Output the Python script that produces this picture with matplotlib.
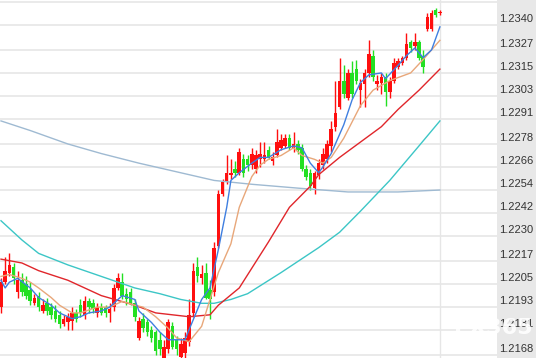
import matplotlib
matplotlib.use('Agg')
import matplotlib.pyplot as plt
from matplotlib.patches import Rectangle
from matplotlib.transforms import blended_transform_factory

# OHLC (red = up, green = down)
opens = [1.2193, 1.2206, 1.2211, 1.2214, 1.2201, 1.2207, 1.2205, 1.2202, 1.2195, 1.2199,
         1.2191, 1.2195, 1.2193, 1.2191, 1.2189, 1.2184, 1.2185, 1.2186, 1.2190, 1.2194,
         1.2189, 1.2196, 1.2195, 1.2190, 1.2193, 1.2193, 1.2190, 1.2193, 1.2203, 1.2206,
         1.2200, 1.2201, 1.2195, 1.2177, 1.2187, 1.2185, 1.2181, 1.2180, 1.2176, 1.2166,
         1.2171, 1.2183, 1.2176, 1.2167, 1.2169, 1.2175, 1.2190, 1.2214, 1.2208, 1.2211,
         1.2202, 1.2201, 1.2225, 1.2252, 1.2258, 1.2262, 1.2265, 1.2263, 1.2270, 1.2270,
         1.2267, 1.2265, 1.2270, 1.2270, 1.2275, 1.2269, 1.2272, 1.2276, 1.2277, 1.2281,
         1.2276, 1.2278, 1.2276, 1.2265, 1.2263, 1.2255, 1.2262, 1.2267, 1.2270, 1.2277,
         1.2287, 1.2297, 1.2311, 1.2302, 1.2315, 1.2317, 1.2306, 1.2309, 1.2315, 1.2324,
         1.2309, 1.2310, 1.2313, 1.2305, 1.2311, 1.2318, 1.2320, 1.2323, 1.2331, 1.2329,
         1.2331, 1.2324, 1.2338, 1.2338, 1.2348, 1.2346]
highs = [1.2208, 1.2219, 1.2221, 1.2216, 1.2212, 1.2211, 1.2209, 1.2206, 1.2200, 1.2201,
         1.2197, 1.2198, 1.2195, 1.2194, 1.2191, 1.2189, 1.2190, 1.2193, 1.2192, 1.2197,
         1.2199, 1.2198, 1.2197, 1.2195, 1.2195, 1.2194, 1.2195, 1.2205, 1.2211, 1.2211,
         1.2203, 1.2203, 1.2197, 1.2188, 1.2190, 1.2187, 1.2183, 1.2181, 1.2180, 1.2176,
         1.2187, 1.2185, 1.2178, 1.2177, 1.2180, 1.2197, 1.2216, 1.2219, 1.2215, 1.2216,
         1.2207, 1.2227, 1.2254, 1.2260, 1.2272, 1.2270, 1.2269, 1.2276, 1.2273, 1.2272,
         1.2276, 1.2275, 1.2279, 1.2279, 1.2277, 1.2274, 1.2286, 1.2283, 1.2283, 1.2283,
         1.2284, 1.2280, 1.2278, 1.2267, 1.2265, 1.2264, 1.2270, 1.2276, 1.2280, 1.2290,
         1.2311, 1.2323, 1.2319, 1.2317, 1.2321, 1.2322, 1.2312, 1.2317, 1.2332, 1.2327,
         1.2314, 1.2315, 1.2315, 1.2313, 1.2323, 1.2323, 1.2324, 1.2336, 1.2332, 1.2336,
         1.2332, 1.2327, 1.2346, 1.2348, 1.2349, 1.2348]
lows = [1.2190, 1.2205, 1.2209, 1.2205, 1.2198, 1.2199, 1.2197, 1.2194, 1.2194, 1.2191,
        1.2190, 1.2189, 1.2187, 1.2185, 1.2182, 1.2183, 1.2181, 1.2181, 1.2185, 1.2188,
        1.2187, 1.2190, 1.2190, 1.2188, 1.2189, 1.2188, 1.2185, 1.2191, 1.2202, 1.2197,
        1.2194, 1.2194, 1.2186, 1.2176, 1.2180, 1.2178, 1.2175, 1.2168, 1.2168, 1.2165,
        1.2169, 1.2171, 1.2168, 1.2165, 1.2166, 1.2173, 1.2188, 1.2206, 1.2205, 1.2197,
        1.2187, 1.2199, 1.2224, 1.2251, 1.2257, 1.2260, 1.2261, 1.2262, 1.2261, 1.2264,
        1.2265, 1.2263, 1.2266, 1.2268, 1.2270, 1.2267, 1.2271, 1.2275, 1.2276, 1.2275,
        1.2274, 1.2273, 1.2264, 1.2259, 1.2254, 1.2252, 1.2260, 1.2265, 1.2268, 1.2274,
        1.2285, 1.2296, 1.2302, 1.2301, 1.2302, 1.2309, 1.2297, 1.2297, 1.2313, 1.2311,
        1.2306, 1.2304, 1.2298, 1.2302, 1.2310, 1.2317, 1.2319, 1.2322, 1.2326, 1.2327,
        1.2322, 1.2315, 1.2337, 1.2337, 1.2344, 1.2345]
closes = [1.2206, 1.2212, 1.2215, 1.2208, 1.2207, 1.2201, 1.2199, 1.2196, 1.2198, 1.2193,
          1.2194, 1.2191, 1.2189, 1.2187, 1.2184, 1.2187, 1.2188, 1.2190, 1.2187, 1.2190,
          1.2196, 1.2193, 1.2192, 1.2193, 1.2190, 1.2190, 1.2192, 1.2203, 1.2208, 1.2199,
          1.2197, 1.2195, 1.2188, 1.2186, 1.2182, 1.2180, 1.2177, 1.2170, 1.2171, 1.2172,
          1.2185, 1.2172, 1.2171, 1.2174, 1.2177, 1.2189, 1.2212, 1.2209, 1.2210, 1.2198,
          1.2197, 1.2224, 1.2252, 1.2258, 1.2263, 1.2263, 1.2263, 1.2274, 1.2263, 1.2267,
          1.2273, 1.2272, 1.2273, 1.2272, 1.2271, 1.2271, 1.2279, 1.2280, 1.2281, 1.2276,
          1.2278, 1.2275, 1.2265, 1.2261, 1.2256, 1.2263, 1.2268, 1.2273, 1.2278, 1.2286,
          1.2294, 1.2311, 1.2304, 1.2315, 1.2304, 1.2311, 1.2310, 1.2315, 1.2325, 1.2313,
          1.2311, 1.2313, 1.2305, 1.2311, 1.2320, 1.2321, 1.2323, 1.2330, 1.2328, 1.2331,
          1.2323, 1.2318, 1.2344, 1.2346, 1.2345, 1.2347]

# moving averages, read at a few candle positions
ma5_x = [0, 1, 2, 4, 7, 9, 12, 14, 17, 19, 21, 24, 26, 28, 29, 32, 33, 36, 38, 40, 42, 44,
         48, 50, 52, 54, 55, 57, 60, 62, 64, 67, 70, 72, 74, 76, 77, 79, 82, 84, 86, 88,
         91, 92, 95, 97, 99, 101, 103, 105]
ma5 = [1.2207, 1.2203, 1.2206, 1.2208, 1.2203, 1.2198, 1.2194, 1.2190, 1.2187, 1.2188,
       1.2190, 1.2191, 1.2193, 1.2197, 1.2199, 1.2197, 1.2191, 1.2185, 1.2180, 1.2176,
       1.2176, 1.2176, 1.2197, 1.2203, 1.2223, 1.2245, 1.2259, 1.2263, 1.2268, 1.2271,
       1.2271, 1.2275, 1.2277, 1.2276, 1.2268, 1.2263, 1.2266, 1.2273, 1.2288, 1.2301,
       1.2310, 1.2314, 1.2315, 1.2312, 1.2319, 1.2324, 1.2328, 1.2323, 1.2327, 1.2339]
ma10_x = [0, 2, 5, 7, 9, 12, 14, 17, 19, 23, 26, 29, 32, 34, 37, 40, 42, 45, 48, 50, 52,
          55, 57, 60, 62, 64, 67, 70, 72, 75, 77, 79, 82, 86, 89, 93, 98, 101, 105]
ma10 = [1.2209, 1.2210, 1.2208, 1.2206, 1.2203, 1.2198, 1.2194, 1.2190, 1.2190, 1.2193,
        1.2193, 1.2196, 1.2194, 1.2193, 1.2188, 1.2182, 1.2177, 1.2175, 1.2183, 1.2197,
        1.2211, 1.2226, 1.2245, 1.2261, 1.2267, 1.2270, 1.2272, 1.2276, 1.2272, 1.2270,
        1.2268, 1.2271, 1.2281, 1.2298, 1.2306, 1.2311, 1.2315, 1.2322, 1.2332]
ma30_x = [0, 5, 9, 16, 24, 32, 37, 45, 50, 52, 57, 64, 69, 74, 76, 81, 86, 91, 95, 100, 105]
ma30 = [1.2218, 1.2216, 1.2212, 1.2207, 1.2199, 1.2194, 1.2190, 1.2188, 1.2189, 1.2194,
        1.2203, 1.2227, 1.2245, 1.2256, 1.2262, 1.2271, 1.2279, 1.2287, 1.2296, 1.2306,
        1.2317]
ma60_x = [0, 5, 9, 16, 24, 32, 38, 43, 48, 51, 55, 59, 67, 76, 81, 86, 93, 100, 105]
ma60 = [1.2238, 1.2228, 1.2221, 1.2215, 1.2209, 1.2203, 1.2200, 1.2197, 1.2195, 1.2195,
        1.2197, 1.2200, 1.2211, 1.2224, 1.2232, 1.2243, 1.2259, 1.2277, 1.2290]
ma200_x = [0, 7, 16, 24, 33, 43, 51, 60, 71, 83, 95, 105]
ma200 = [1.2290, 1.2285, 1.2278, 1.2273, 1.2268, 1.2263, 1.2259, 1.2257, 1.2255, 1.2253,
         1.2253, 1.2254]

price_ticks = ['1.2168', '1.2181', '1.2193', '1.2205', '1.2217', '1.2230', '1.2242', '1.2254',
               '1.2266', '1.2278', '1.2291', '1.2303', '1.2315', '1.2327', '1.2340']

fig = plt.figure(figsize=(5.36, 3.58), dpi=100)
fig.patch.set_facecolor('white')
ax = fig.add_axes([0, 0, 497 / 536, 1])
ax.set_facecolor('white')

# right price panel
fig.patches.append(Rectangle((497 / 536, 0), 1 - 497 / 536, 1, transform=fig.transFigure,
                             facecolor='#e8e8e8', edgecolor='none', zorder=0))

xs = list(range(len(opens)))
up_col, dn_col = '#ff0f0f', '#22e022'
cols = [up_col if c >= o else dn_col for o, c in zip(opens, closes)]
ax.vlines(xs, lows, highs, colors=cols, linewidth=1.0, zorder=2)
bottoms = [min(o, c) for o, c in zip(opens, closes)]
heights = [max(abs(c - o), 0.00004) for o, c in zip(opens, closes)]
ax.bar(xs, heights, bottom=bottoms, width=0.85, color=cols, linewidth=0, zorder=2)

ax.plot(ma200_x, ma200, color='#9fbad2', lw=1.0, zorder=3)
ax.plot(ma60_x, ma60, color='#3cc6c6', lw=1.0, zorder=3)
ax.plot(ma30_x, ma30, color='#e0262b', lw=1.0, zorder=3)
ax.plot(ma10_x, ma10, color='#e8a77a', lw=1.0, zorder=3)
ax.plot(ma5_x, ma5, color='#3f7fe0', lw=1.0, zorder=3)

tick_vals = [float(t) for t in price_ticks]
for v in tick_vals + [1.2352]:
    ax.axhline(v, color='#e6e6e6', lw=1.2, zorder=0)
ax.axvline(105, color='#e6e6e6', lw=1.0, zorder=0)

ax.set_xlim(-0.24, 118.66)
ax.set_ylim(1.21665, 1.2353)
ax.set_xticks([])
ax.set_yticks([])
for s in ax.spines.values():
    s.set_visible(False)

tr = blended_transform_factory(fig.transFigure, ax.transData)
for v, t in zip(tick_vals, price_ticks):
    fig.text(499 / 536, v + 0.00006, t, transform=tr, ha='left', va='bottom',
             fontsize=8, family='Liberation Sans', color='#333333')

# faint watermark, partly over the price panel as in the source
fig.text(533 / 536, 20 / 358, 'FX365', ha='right', va='bottom', fontsize=16,
         fontweight='bold', color='white', alpha=0.9)

fig.savefig('out.png', dpi=100)
